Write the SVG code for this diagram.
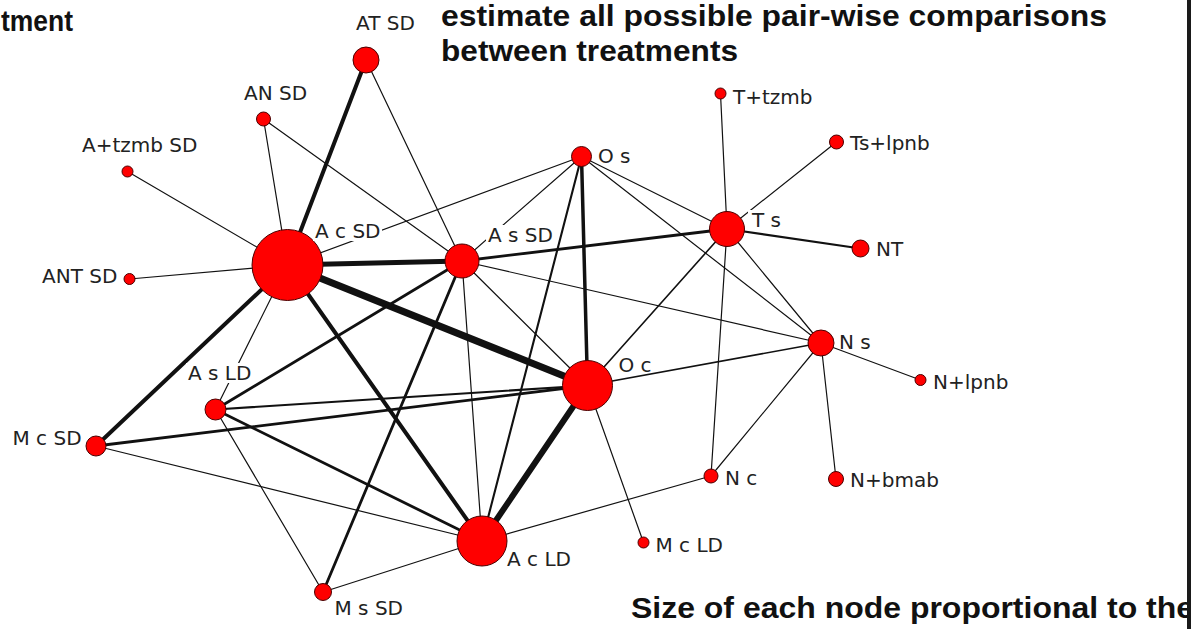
<svg xmlns="http://www.w3.org/2000/svg" width="1191" height="629" viewBox="0 0 1191 629">
<style>
.bg{fill:#ffffff}
#edges line{stroke:#111;stroke-linecap:round;fill:none}
.w1{stroke-width:1.2}.w2{stroke-width:1.6}.w3{stroke-width:2.1}.w4{stroke-width:2.8}.w5{stroke-width:3.5}.w6{stroke-width:4}.w7{stroke-width:5}.w8{stroke-width:6}.w9{stroke-width:7}
.n{fill:#ff0000;stroke:#4a0000;stroke-width:1}
.lbl{font-family:"DejaVu Sans",sans-serif;font-size:20px;fill:#222}
.lb{fill:#ffffff}
.title{font-family:"Liberation Sans",Arial,sans-serif;font-weight:bold;font-size:30px;fill:#111}
</style>
<rect class="bg" x="0" y="0" width="1191" height="629"/>
<g id="titles">
<text class="title" x="1" y="31" textLength="72" lengthAdjust="spacingAndGlyphs">tment</text>
<text class="title" x="441" y="26" textLength="666" lengthAdjust="spacingAndGlyphs">estimate all possible pair-wise comparisons</text>
<text class="title" x="441" y="61" textLength="297" lengthAdjust="spacingAndGlyphs">between treatments</text>
<text class="title" x="631" y="618" textLength="563" lengthAdjust="spacingAndGlyphs">Size of each node proportional to the</text>
</g>
<g id="edges">
<line class="w6" x1="366" y1="60" x2="287.5" y2="265"/>
<line class="w1" x1="366" y1="60" x2="462" y2="261"/>
<line class="w1" x1="263.5" y1="119" x2="287.5" y2="265"/>
<line class="w1" x1="263.5" y1="119" x2="462" y2="261"/>
<line class="w1" x1="127.5" y1="171.5" x2="287.5" y2="265"/>
<line class="w1" x1="129.5" y1="279" x2="287.5" y2="265"/>
<line class="w7" x1="287.5" y1="265" x2="462" y2="261"/>
<line class="w9" x1="287.5" y1="265" x2="587.5" y2="385.5"/>
<line class="w6" x1="287.5" y1="265" x2="482" y2="541"/>
<line class="w6" x1="287.5" y1="265" x2="96" y2="446"/>
<line class="w1" x1="287.5" y1="265" x2="215.5" y2="409.5"/>
<line class="w1" x1="287.5" y1="265" x2="581.5" y2="156.5"/>
<line class="w4" x1="462" y1="261" x2="727" y2="229"/>
<line class="w1" x1="462" y1="261" x2="821" y2="343"/>
<line class="w1" x1="462" y1="261" x2="581.5" y2="156.5"/>
<line class="w1" x1="462" y1="261" x2="587.5" y2="385.5"/>
<line class="w4" x1="462" y1="261" x2="215.5" y2="409.5"/>
<line class="w4" x1="462" y1="261" x2="323" y2="592"/>
<line class="w1" x1="462" y1="261" x2="482" y2="541"/>
<line class="w5" x1="581.5" y1="156.5" x2="587.5" y2="385.5"/>
<line class="w3" x1="581.5" y1="156.5" x2="482" y2="541"/>
<line class="w1" x1="581.5" y1="156.5" x2="727" y2="229"/>
<line class="w1" x1="581.5" y1="156.5" x2="821" y2="343"/>
<line class="w1" x1="727" y1="229" x2="720.5" y2="93.5"/>
<line class="w1" x1="727" y1="229" x2="836.5" y2="142"/>
<line class="w3" x1="727" y1="229" x2="860.5" y2="248.5"/>
<line class="w2" x1="727" y1="229" x2="587.5" y2="385.5"/>
<line class="w1" x1="727" y1="229" x2="711" y2="476"/>
<line class="w1" x1="727" y1="229" x2="821" y2="343"/>
<line class="w2" x1="821" y1="343" x2="587.5" y2="385.5"/>
<line class="w1" x1="821" y1="343" x2="711" y2="476"/>
<line class="w1" x1="821" y1="343" x2="920.5" y2="380"/>
<line class="w1" x1="821" y1="343" x2="836" y2="479"/>
<line class="w3" x1="587.5" y1="385.5" x2="215.5" y2="409.5"/>
<line class="w4" x1="587.5" y1="385.5" x2="96" y2="446"/>
<line class="w8" x1="587.5" y1="385.5" x2="482" y2="541"/>
<line class="w1" x1="587.5" y1="385.5" x2="643.5" y2="542.5"/>
<line class="w4" x1="215.5" y1="409.5" x2="482" y2="541"/>
<line class="w1" x1="215.5" y1="409.5" x2="323" y2="592"/>
<line class="w1" x1="96" y1="446" x2="482" y2="541"/>
<line class="w1" x1="482" y1="541" x2="323" y2="592"/>
<line class="w1" x1="482" y1="541" x2="711" y2="476"/>
</g>
<g id="node-at-sd"><circle class="n" cx="366" cy="60" r="13"/><text class="lbl" x="356" y="30">AT SD</text></g>
<g id="node-an-sd"><circle class="n" cx="263.5" cy="119" r="7"/><text class="lbl" x="244" y="100">AN SD</text></g>
<g id="node-atzmb-sd"><circle class="n" cx="127.5" cy="171.5" r="5.5"/><text class="lbl" x="82" y="152">A+tzmb SD</text></g>
<g id="node-ant-sd"><circle class="n" cx="129.5" cy="279" r="5.5"/><text class="lbl" x="42" y="283">ANT SD</text></g>
<g id="node-ac-sd"><circle class="n" cx="287.5" cy="265" r="35.5"/><rect class="lb" x="313" y="221" width="69" height="20"/><text class="lbl" x="315" y="237.5">A c SD</text></g>
<g id="node-as-sd"><circle class="n" cx="462" cy="261" r="17"/><rect class="lb" x="486" y="225" width="69" height="20"/><text class="lbl" x="488" y="241.5">A s SD</text></g>
<g id="node-o-s"><circle class="n" cx="581.5" cy="156.5" r="10"/><text class="lbl" x="598" y="162.5">O s</text></g>
<g id="node-t-tzmb"><circle class="n" cx="720.5" cy="93.5" r="5.5"/><text class="lbl" x="733" y="103.5">T+tzmb</text></g>
<g id="node-ts-lpnb"><circle class="n" cx="836.5" cy="142" r="7"/><text class="lbl" x="850" y="150">Ts+lpnb</text></g>
<g id="node-t-s"><circle class="n" cx="727" cy="229" r="17.5"/><rect class="lb" x="748" y="210" width="36" height="20"/><text class="lbl" x="752" y="226.5">T s</text></g>
<g id="node-nt"><circle class="n" cx="860.5" cy="248.5" r="8.5"/><text class="lbl" x="876" y="256">NT</text></g>
<g id="node-n-s"><circle class="n" cx="821" cy="343" r="13"/><text class="lbl" x="839" y="349">N s</text></g>
<g id="node-n-lpnb"><circle class="n" cx="920.5" cy="380" r="5.5"/><text class="lbl" x="933" y="389">N+lpnb</text></g>
<g id="node-o-c"><circle class="n" cx="587.5" cy="385.5" r="25"/><text class="lbl" x="618.5" y="371.5">O c</text></g>
<g id="node-as-ld"><circle class="n" cx="215.5" cy="409.5" r="10.5"/><rect class="lb" x="186" y="363" width="68" height="20"/><text class="lbl" x="188" y="380">A s LD</text></g>
<g id="node-mc-sd"><circle class="n" cx="96" cy="446" r="10"/><text class="lbl" x="12.5" y="445">M c SD</text></g>
<g id="node-n-c"><circle class="n" cx="711" cy="476" r="7"/><text class="lbl" x="725" y="484.5">N c</text></g>
<g id="node-n-bmab"><circle class="n" cx="836" cy="479" r="7.5"/><text class="lbl" x="850" y="487">N+bmab</text></g>
<g id="node-ac-ld"><circle class="n" cx="482" cy="541" r="25"/><text class="lbl" x="507" y="565.5">A c LD</text></g>
<g id="node-mc-ld"><circle class="n" cx="643.5" cy="542.5" r="5.5"/><text class="lbl" x="655.5" y="551.5">M c LD</text></g>
<g id="node-ms-sd"><circle class="n" cx="323" cy="592" r="8.5"/><text class="lbl" x="334.5" y="615">M s SD</text></g>
<rect id="edge-bar" x="1187" y="0" width="4" height="629" fill="#1a1a1a"/>
</svg>
